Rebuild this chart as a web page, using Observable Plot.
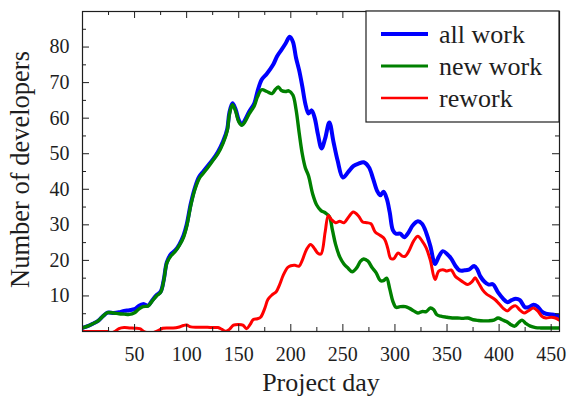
<!DOCTYPE html>
<html>
<head>
<meta charset="utf-8">
<script src="https://cdn.jsdelivr.net/npm/d3@7"></script>
<script src="https://cdn.jsdelivr.net/npm/@observablehq/plot@0.6"></script>
<style>
  html, body { margin: 0; padding: 0; background: #fff; }
  #chart { width: 568px; height: 396px; }
</style>
</head>
<body>
<div id="chart"></div>
<script>
// ---- data ----
const seriesNames = ["all work", "new work", "rework"];
const seriesColors = ["#0000ff", "#008000", "#ff0000"];

const allDays = [0,5,10,15,20,24,30,35,40,45,50,54,58,63,67,71,75,78,81,85,89,93,97,100,104,108,112,116,120,125,130,135,139,141,144,147,150,153,156,160,165,168,172,177,183,187,191,195,199,202,205,208,211,214,217,220,223,226,229.5,233,237,241,245,250,255,260,265,270,275,279,283,286,289,292,295,298,301,305,309,313,317,322,326,330,334,338.5,342,346,350,354,358,362,367,371,376,379,382,386,390,394,399,404,408,412,416,420,425,429,433,437,441,445,450,454,458];
const allWork = [1.0,1.5,2.2,3.0,4.4,5.3,5.2,5.4,5.8,6.0,6.3,7.2,7.7,7.3,8.8,10.2,11.2,14.5,19.5,21.8,22.8,24.5,27,30,36,40.5,43.5,45,46.5,48.3,50.5,53.5,57,61.5,64.2,62.5,59.5,58.2,59.5,61.8,64.2,67.5,70.8,72.5,75,77.5,79.2,81,82.9,81.5,77,73.5,69,64,61.3,62.2,60,55.5,51.5,54.3,58.8,53.3,48,43.3,44.8,46.5,47.2,47.6,46.2,43,39.5,38.3,39.3,37.5,33.5,28.5,27.5,27.5,26.5,27.8,29.8,31,30.3,27.8,24,19,21,22.6,21.8,20.5,18.5,17.2,17.2,17.4,18.4,17.5,15.5,14,13.2,13.3,11,9.2,8.2,8.8,9.2,8.8,6.8,6.9,7.5,7.0,5.6,5.0,4.8,4.6,4.3];

const newDays = [0,5,10,15,20,24,30,35,40,45,50,54,58,63,67,71,75,78,81,85,89,93,97,100,104,108,112,116,120,125,130,135,139,141,144,147,150,153,156,160,165,168,172,177,182,185,188,191,195,198,202,205,208,211,214,217,221,225,229,233,237,240,243,247,251,255,259,263,267,270,274,278,282,286,289,292,295,298,301,305,310,314,318,322,326,330,334,337,340,344,350,355,360,365,370,375,380,385,390,395,399,403,407,411,415,419,422,426,430,435,440,445,450,455,458];
const newWork = [1.0,1.5,2.2,3.0,4.4,5.3,5.2,5.0,4.9,4.8,5.3,6.3,7.0,7.2,8.6,10,11,14.3,19.3,21.3,22.5,24.2,26.5,29.5,35.5,40,43,44.5,46,48,50,53,56.5,61,63.8,62,59,58,59,61.2,63.5,66,68,67.5,66.9,68,68.8,67.8,67.5,67.7,66.5,62.5,56,50,46,43.8,38.7,35.5,34,33.4,32.3,28.5,24.5,21,19,17.8,16.8,17.8,19.8,20.4,19.8,18,16.5,14.3,14.3,15,12,8.5,6.8,7,7,6.5,5.8,5.2,5.6,5.6,6.6,6.2,4.8,4.3,4.0,3.8,3.8,3.7,3.8,3.3,3.1,3.0,3.0,3.2,3.8,3.3,2.8,2.0,1.5,2.6,3.2,2.2,1.5,1.1,1.0,1.0,1.0,1.0,1.0];

const reDays = [0,10,20,24,27,31,35,40,45,50,55,59,64,69,73,77,82,87,92,97,100,104,110,115,120,125,130,134,137,141,145,150,154,157.5,161,164,168,171,175,178,182,186,189,193,197,200,204,208,211,215,219,223,226,229,233,236,239,243,247,251,255,260,265,269,273,277,281,286,290,293,296,299,303,307,310,314,318,322,326,330,334,338.5,342,346,350,354,358,362,366,370,374,377,380,384,388,392,396,400,404,408,412,416,420,424,428,433,437,441,445,450,454,458];
const rework = [0,0,0,0,-0.4,0,0.8,1.1,1.0,0.9,0.8,0,-0.4,-0.2,0.3,0.9,1.0,1.0,1.2,1.7,1.8,1.3,1.2,1.2,1.2,1.1,1.1,0.6,0.1,0.6,1.8,2.0,1.8,0.8,2,3.4,3.6,4,6.5,9,10.3,11.2,13,16,18,18.5,18.6,18.4,20,23,24.5,23.2,22,21.8,28,32.6,31.5,30.6,31,30.6,32,33.6,32.5,30.8,30.6,30.3,28,27,26,23.5,20.5,20.5,22.1,21.2,21.2,23,25.5,26.8,25.5,23.5,20,14.6,17,17.4,17,17.3,15.5,14.6,13.8,13.2,14,15.1,13.8,11.8,10.5,9.8,9.0,7.8,6.5,5.8,6.8,7.2,6.0,5.2,5.8,6.6,5.8,4.3,3.8,4.0,3.8,3.2];

const xMajor = [50,100,150,200,250,300,350,400,450];
const xMinor = [25,75,125,175,225,275,325,375,425];
const yMajor = [10,20,30,40,50,60,70,80];
const yMinor = [5,15,25,35,45,55,65,75,85];
const xTitle = "Project day";
const yTitle = "Number of developers";

// ---- build tables ----
const toRows = (days, vals) => days.map((d, i) => ({day: d, value: vals[i]}));
const allRows = toRows(allDays, allWork);
const newRows = toRows(newDays, newWork);
const reRows = toRows(reDays, rework);

const W = 568, H = 396;
const mL = 82, mR = 9, mT = 11, mB = 65;
const fw = W - mL - mR, fh = H - mT - mB;
const ink = "#1e1e1e";
const font = "Liberation Serif, Times New Roman, serif";

const lineOpts = (color, sw) => ({x: "day", y: "value", stroke: color, strokeWidth: sw, curve: "catmull-rom", clip: true, strokeLinejoin: "round"});

const chart = Plot.plot({
  width: W, height: H,
  marginLeft: mL, marginRight: mR, marginTop: mT, marginBottom: mB,
  style: {fontFamily: font, fontSize: "20px", color: ink, background: "#fff"},
  x: {domain: [0, 458]},
  y: {domain: [0, 90]},
  marks: [
    Plot.line(allRows, lineOpts(seriesColors[0], 4)),
    Plot.line(newRows, lineOpts(seriesColors[1], 3.4)),
    Plot.line(reRows, lineOpts(seriesColors[2], 3)),
    // inward ticks on all four sides
    Plot.ruleX(xMajor, {insetTop: fh - 7, stroke: ink}),
    Plot.ruleX(xMinor, {insetTop: fh - 4, stroke: ink}),
    Plot.ruleX(xMajor, {insetBottom: fh - 7, stroke: ink}),
    Plot.ruleX(xMinor, {insetBottom: fh - 4, stroke: ink}),
    Plot.ruleY(yMajor, {insetRight: fw - 7, stroke: ink}),
    Plot.ruleY(yMinor, {insetRight: fw - 4, stroke: ink}),
    Plot.ruleY(yMajor, {insetLeft: fw - 7, stroke: ink}),
    Plot.ruleY(yMinor, {insetLeft: fw - 4, stroke: ink}),
    Plot.frame({stroke: ink, strokeWidth: 1.2}),
    Plot.axisX({ticks: xMajor, tickSize: 0, tickPadding: 15, label: null, fontSize: 20, fontFamily: font}),
    Plot.axisY({ticks: yMajor, tickSize: 0, tickPadding: 13, label: null, fontSize: 20, fontFamily: font}),
    Plot.text([xTitle], {frameAnchor: "bottom", dy: 51, lineAnchor: "middle", textAnchor: "middle", fontSize: 26, fill: ink, fontFamily: font}),
    Plot.text([yTitle], {frameAnchor: "left", dx: -62, dy: -2, rotate: -90, lineAnchor: "middle", textAnchor: "middle", fontSize: 26.5, fill: ink, fontFamily: font})
  ]
});

document.getElementById("chart").appendChild(chart);

// ---- legend box inside the plot (upper right) ----
const svg = d3.select(chart);
const lg = svg.append("g").attr("font-size", 26).attr("text-anchor", "start").attr("font-family", font);
const boxX = 366, boxY = mT, boxW = W - mR - 366, boxH = 111;
lg.append("rect").attr("x", boxX).attr("y", boxY).attr("width", boxW).attr("height", boxH)
  .attr("fill", "#fff").attr("stroke", ink).attr("stroke-width", 1.2);
const lw = [4, 3, 2.5];
seriesNames.forEach((name, i) => {
  const yy = 34 + i * 32;
  lg.append("line").attr("x1", 381).attr("x2", 428).attr("y1", yy).attr("y2", yy)
    .attr("stroke", seriesColors[i]).attr("stroke-width", lw[i]);
  lg.append("text").attr("x", 439).attr("y", yy + 9).attr("fill", ink).text(name);
});
</script>
</body>
</html>
